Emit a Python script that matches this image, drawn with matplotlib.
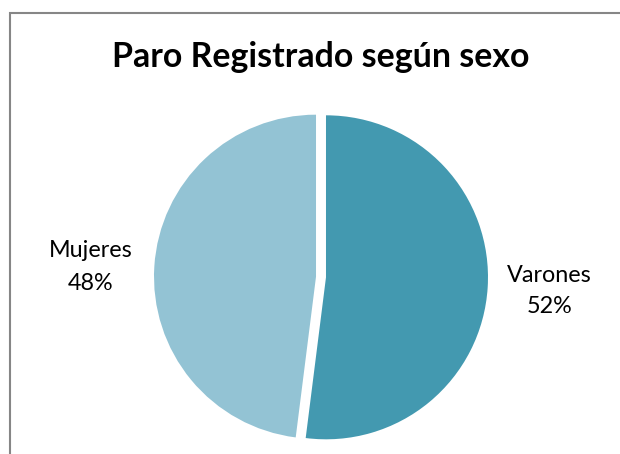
import matplotlib
matplotlib.use('Agg')
import matplotlib.pyplot as plt
from matplotlib.lines import Line2D

# ---- data ----
categories = ['Varones', 'Mujeres']
values = [52, 48]
title = 'Paro Registrado según sexo'

# ---- style ----
colors = ['#4399B0', '#93C3D4']
W, H = 620, 454
FONT = ['Lato', 'DejaVu Sans']

fig = plt.figure(figsize=(W / 100, H / 100), dpi=100)
fig.patch.set_facecolor('white')
ax = fig.add_axes([0, 0, 1, 1])

radius = 162
cx, cy = 321, H - 277
ax.pie(values, colors=colors, startangle=90, counterclock=False,
       explode=[5] * len(values), radius=radius, center=(cx, cy),
       frame=True, wedgeprops=dict(linewidth=0))
ax.set_xlim(0, W)
ax.set_ylim(0, H)
ax.set_aspect('equal')
ax.axis('off')

# chart border (top and left edges; others fall outside the image)
bx, by = 9.5 / W, 1 - 12.5 / H
fig.add_artist(Line2D([bx, bx, 1.01], [-0.01, by, by], transform=fig.transFigure,
                      color='#868686', linewidth=1.5, solid_joinstyle='miter'))

renderer = fig.canvas.get_renderer()


def fitted_text(x, y_px, s, target_w, size=None, **kw):
    t = ax.text(x, H - y_px, s, ha='center', va='baseline', family=FONT,
                fontsize=size or 20, **kw)
    if size is None:
        w = t.get_window_extent(renderer).width
        t.set_fontsize(20 * target_w / w)
    return t


fitted_text(321, 66.7, title, 416, fontweight='bold')

total = sum(values)
lab = fitted_text(549, 281.7, categories[0], 85)
fs = lab.get_fontsize()
fitted_text(550, 312.7, f"{values[0] / total * 100:.0f}%", 0, size=fs)
fitted_text(91, 257.3, categories[1], 0, size=fs)
fitted_text(91, 290, f"{values[1] / total * 100:.0f}%", 0, size=fs)

fig.savefig('out.png', dpi=100)
